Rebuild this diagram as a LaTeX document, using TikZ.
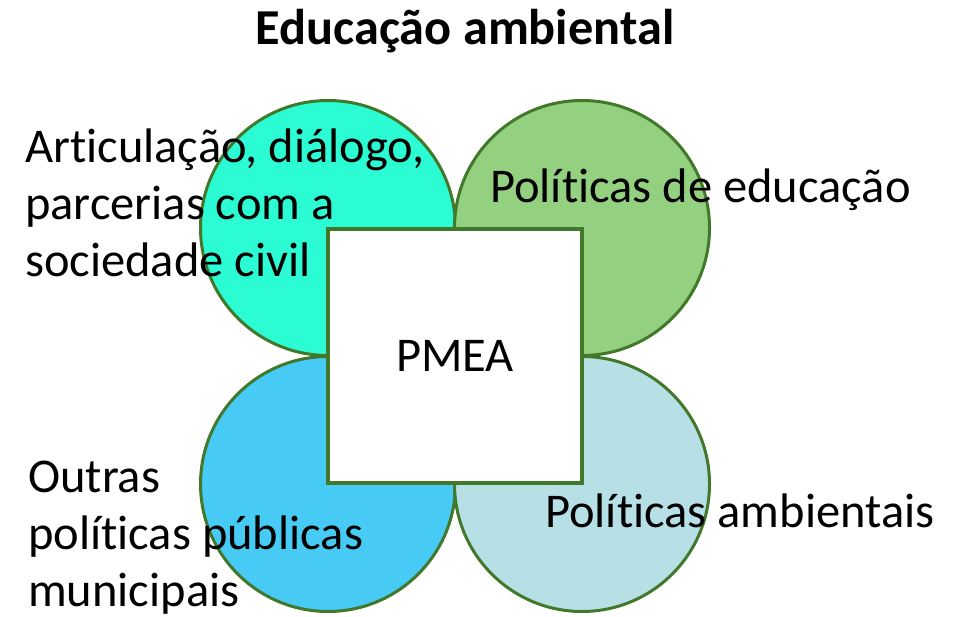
\documentclass[tikz,border=0pt]{standalone}
\usepackage{fontspec}
\setmainfont[Ligatures=NoCommon]{Carlito}
\definecolor{edgegreen}{HTML}{41782A}
\definecolor{cteal}{HTML}{2CFCD3}
\definecolor{cgreen}{HTML}{93D07F}
\definecolor{cblue}{HTML}{47CBF5}
\definecolor{clight}{HTML}{B7E0E6}
\tikzset{
  petal/.style={circle, draw=edgegreen, line width=3pt, minimum size=255pt, inner sep=0pt},
  core/.style={draw=edgegreen, fill=white, line width=3.5pt, minimum size=254pt, inner sep=0pt, font=\fontsize{48.5}{57}\selectfont},
  label/.style={anchor=base west, inner sep=0pt, font=\fontsize{48.5}{57}\selectfont},
  titlestyle/.style={anchor=base, inner sep=0pt, font=\fontsize{50.3}{57}\selectfont\bfseries}
}
\begin{document}
\begin{tikzpicture}[x=1pt, y=-1pt]
\useasboundingbox (0,0) rectangle (958,617);
\node[petal, fill=cteal]  (tl) at (328,228) {};
\node[petal, fill=cgreen] (tr) at (582,228) {};
\node[petal, fill=cblue]  (bl) at (328,484) {};
\node[petal, fill=clight] (br) at (582,484) {};
\node[core] (pmea) at (455,356) {PMEA};
\node[titlestyle] (title) at (465,45) {Educação ambiental};
\node[label] (ltl) at (25,163) {\begin{tabular}[t]{@{}l@{}}Articulação, diálogo,\\ parcerias com a\\ sociedade civil\end{tabular}};
\node[label] (ltr) at (490,203) {Políticas de educação};
\node[label] (lbl) at (28,492) {\begin{tabular}[t]{@{}l@{}}Outras\\ políticas públicas\\ municipais\end{tabular}};
\node[label] (lbr) at (545,527) {Políticas ambientais};
\end{tikzpicture}
\end{document}
